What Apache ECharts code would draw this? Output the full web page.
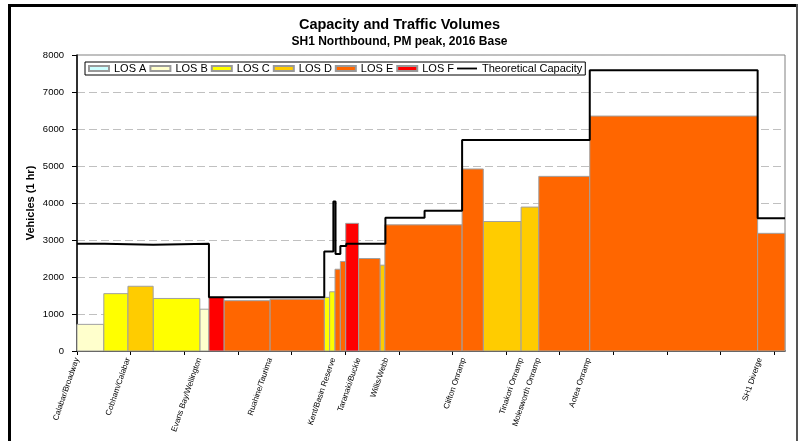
<!DOCTYPE html>
<html><head><meta charset="utf-8">
<script src="https://cdn.jsdelivr.net/npm/echarts@6/dist/echarts.min.js"></script>
<style>html,body{margin:0;padding:0;background:#fff}#c{width:799px;height:441px}</style>
</head><body><div id="c"></div>
<script>
// Level-of-service categories
const losNames = ['LOS A','LOS B','LOS C','LOS D','LOS E','LOS F'];
const losColors = ['#CCFFFF','#FFFFCC','#FFFF00','#FFCC00','#FF6600','#FF0000'];

// Traffic volume segments (distance along route, vehicles per hour, LOS)
const segStart  = [0,    0.5,  0.95, 1.42, 2.29, 2.46, 2.74, 3.6,  4.61, 4.71, 4.81, 4.91, 5.01, 5.25, 5.65, 5.74, 7.18, 7.575, 8.28, 8.61, 9.56, 12.69];
const segEnd    = [0.5,  0.95, 1.42, 2.29, 2.46, 2.74, 3.6,  4.61, 4.71, 4.81, 4.91, 5.01, 5.25, 5.65, 5.74, 7.18, 7.575, 8.28, 8.61, 9.56, 12.69, 13.2];
const segVolume = [720,  1550, 1750, 1420, 1130, 1450, 1360, 1400, 1450, 1600, 2210, 2420, 3450, 2500, 2320, 3410, 4920, 3500, 3890, 4720, 6350, 3180];
const segLOS    = ['LOS B','LOS C','LOS D','LOS C','LOS B','LOS F','LOS E','LOS E','LOS C','LOS C','LOS E','LOS E','LOS F','LOS E','LOS D','LOS E','LOS E','LOS D','LOS D','LOS E','LOS E','LOS E'];

// Theoretical capacity steps
const capStart = [0,    0.515, 1.42, 2.46, 4.61, 4.78, 4.82, 4.91, 5.02, 5.75, 6.48, 7.18, 9.56, 12.69];
const capValue = [2900, 2870,  2900, 1450, 2690, 4040, 2620, 2840, 2900, 3600, 3790, 5700, 7590, 3590];
const xMax = 13.2;

// Axis ticks and location labels
const xTicks = [0,1,2,3,4,5,6,7,8,9,10,11,12,13];
const labelPos = [0, 0.95, 2.28, 3.6, 4.78, 5.25, 5.77, 7.21, 8.28, 8.6, 9.54, 12.73];
const labelNames = ['Calabar/Broadway','Cobham/Calabar','Evans Bay/Wellington','Ruahine/Taurima','Kent/Basin Reserve','Taranaki/Buckle','Willis/Webb','Clifton Onramp','Tinakori Onramp','Molesworth Onramp','Aotea Onramp','SH1 Diverge'];

const FONT = "'Liberation Sans', Arial, Helvetica, sans-serif";

function renderItem(params, api){
  const p0 = api.coord([api.value(0), api.value(2)]);
  const p1 = api.coord([api.value(1), 0]);
  return {type:'rect', shape:{x:p0[0], y:p0[1], width:p1[0]-p0[0], height:p1[1]-p0[1]},
    style:{fill:api.visual('color'), stroke:'#a0a0a0', lineWidth:1}};
}

const losSeries = losNames.map((name,i)=>({
  type:'custom', name, renderItem, encode:{x:[0,1], y:2},
  itemStyle:{color:losColors[i], borderColor:'#999999', borderWidth:1},
  data: segStart.map((s,k)=>[s, segEnd[k], segVolume[k], segLOS[k]]).filter(d=>d[3]===name).map(d=>d.slice(0,3)),
  z:2, animation:false
}));

const capData = capStart.map((s,i)=>[s, capValue[i]]).concat([[xMax, capValue[capValue.length-1]]]);

const chart = echarts.init(document.getElementById('c'), null, {renderer:'canvas'});
chart.setOption({
  animation:false,
  backgroundColor:'#fff',
  textStyle:{fontFamily:FONT},
  title:[
    {text:'Capacity and Traffic Volumes', left:'center', top:17, padding:0, textStyle:{fontSize:14.5, fontWeight:'bold', color:'#000', fontFamily:FONT}},
    {text:'SH1 Northbound, PM peak, 2016 Base', left:'center', top:36, padding:0, textStyle:{fontSize:12, fontWeight:'bold', color:'#000', fontFamily:FONT}}
  ],
  legend:{
    left:85, top:62, itemWidth:20, itemHeight:5, itemGap:3, padding:[1,3,1,3],
    borderColor:'#000', borderWidth:1, backgroundColor:'#fff',
    textStyle:{fontSize:11, color:'#000', fontFamily:FONT},
    data:[...losNames.map(n=>({name:n, icon:'rect'})), {name:'Theoretical Capacity', icon:'path://M0,0 H22 V2 H0 Z'}]
  },
  grid:{left:77, right:14, top:55, bottom:90, show:true, borderColor:'#808080', borderWidth:1},
  xAxis:{
    type:'value', min:0, max:xMax, interval:1,
    axisLine:{lineStyle:{color:'#000', width:1.5}},
    axisTick:{show:true, length:4, customValues:xTicks, lineStyle:{color:'#000'}},
    axisLabel:{customValues:labelPos, rotate:71, fontSize:8, margin:7, color:'#000', fontFamily:FONT,
      formatter:v=>{let b=0;labelPos.forEach((p,i)=>{if(Math.abs(p-v)<Math.abs(labelPos[b]-v))b=i;});return labelNames[b];}},
    splitLine:{show:false}
  },
  yAxis:{
    type:'value', min:0, max:8000, interval:1000,
    name:'Vehicles (1 hr)', nameLocation:'middle', nameGap:41, nameMoveOverlap:false,
    nameTextStyle:{fontWeight:'bold', fontSize:11, color:'#000', fontFamily:FONT},
    axisLine:{show:true, lineStyle:{color:'#000', width:1.5}},
    axisTick:{show:true, length:5, lineStyle:{color:'#000'}},
    axisLabel:{fontSize:9.5, color:'#000', margin:13, fontFamily:FONT, formatter:v=>String(v)},
    splitLine:{lineStyle:{color:'#c0c0c0', type:[8,4]}}
  },
  series:[...losSeries, {
    type:'line', name:'Theoretical Capacity', step:'end', symbol:'none', showSymbol:false,
    data:capData, lineStyle:{color:'#000', width:2}, itemStyle:{color:'#000'}, z:5, animation:false
  }],
  graphic:[
    {type:'line', shape:{x1:9.5,y1:4,x2:9.5,y2:441}, style:{stroke:'#000', lineWidth:3}, silent:true},
    {type:'line', shape:{x1:8,y1:5.5,x2:798,y2:5.5}, style:{stroke:'#000', lineWidth:3}, silent:true},
    {type:'line', shape:{x1:797,y1:4,x2:797,y2:441}, style:{stroke:'#555', lineWidth:2}, silent:true}
  ]
});
</script></body></html>
